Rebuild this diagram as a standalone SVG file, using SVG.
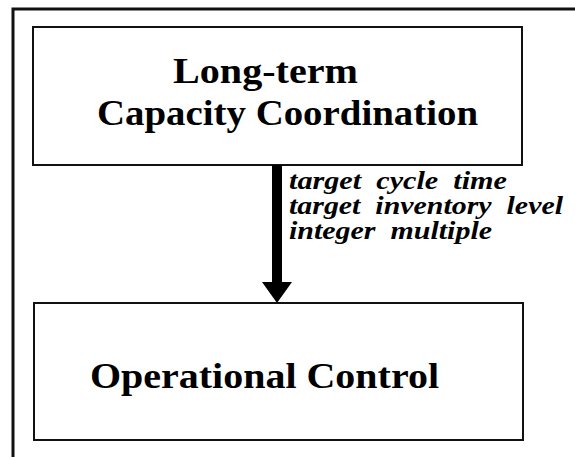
<svg xmlns="http://www.w3.org/2000/svg" width="575" height="457" viewBox="0 0 575 457">
  <style>
    .frame { fill: none; stroke: #111; stroke-width: 3; }
    .box { fill: #fff; stroke: #111; stroke-width: 2; }
    .title { font-family: "Liberation Serif", "Times New Roman", serif; font-weight: bold; font-size: 36px; fill: #000; }
    .label { font-family: "Liberation Serif", "Times New Roman", serif; font-weight: bold; font-style: italic; font-size: 25px; fill: #000; white-space: pre; }
  </style>
  <rect width="575" height="457" fill="#fff"/>

  <!-- outer frame: top and left edges -->
  <path class="frame" d="M13,457 L13,9 L575,9"/>

  <g id="node-capacity">
    <rect class="box" x="33" y="27" width="489" height="138"/>
    <text class="title" x="173" y="83" textLength="185" lengthAdjust="spacingAndGlyphs">Long-term</text>
    <text class="title" x="97" y="125" textLength="381" lengthAdjust="spacingAndGlyphs">Capacity Coordination</text>
  </g>

  <g id="node-operational">
    <rect class="box" x="34" y="303" width="489" height="137"/>
    <text class="title" x="90" y="388" textLength="349" lengthAdjust="spacingAndGlyphs">Operational Control</text>
  </g>

  <g id="connectors">
    <!-- thick shaft with a solid triangular head -->
    <rect x="272" y="165" width="10" height="119" fill="#000"/>
    <polygon points="262,282 292,282 277,303" fill="#000"/>
    <text class="label" x="289" y="189" xml:space="preserve" textLength="218" lengthAdjust="spacingAndGlyphs">target  cycle  time</text>
    <text class="label" x="289" y="214" xml:space="preserve" textLength="274" lengthAdjust="spacingAndGlyphs">target  inventory  level</text>
    <text class="label" x="289" y="239" xml:space="preserve" textLength="203" lengthAdjust="spacingAndGlyphs">integer  multiple</text>
  </g>
</svg>
